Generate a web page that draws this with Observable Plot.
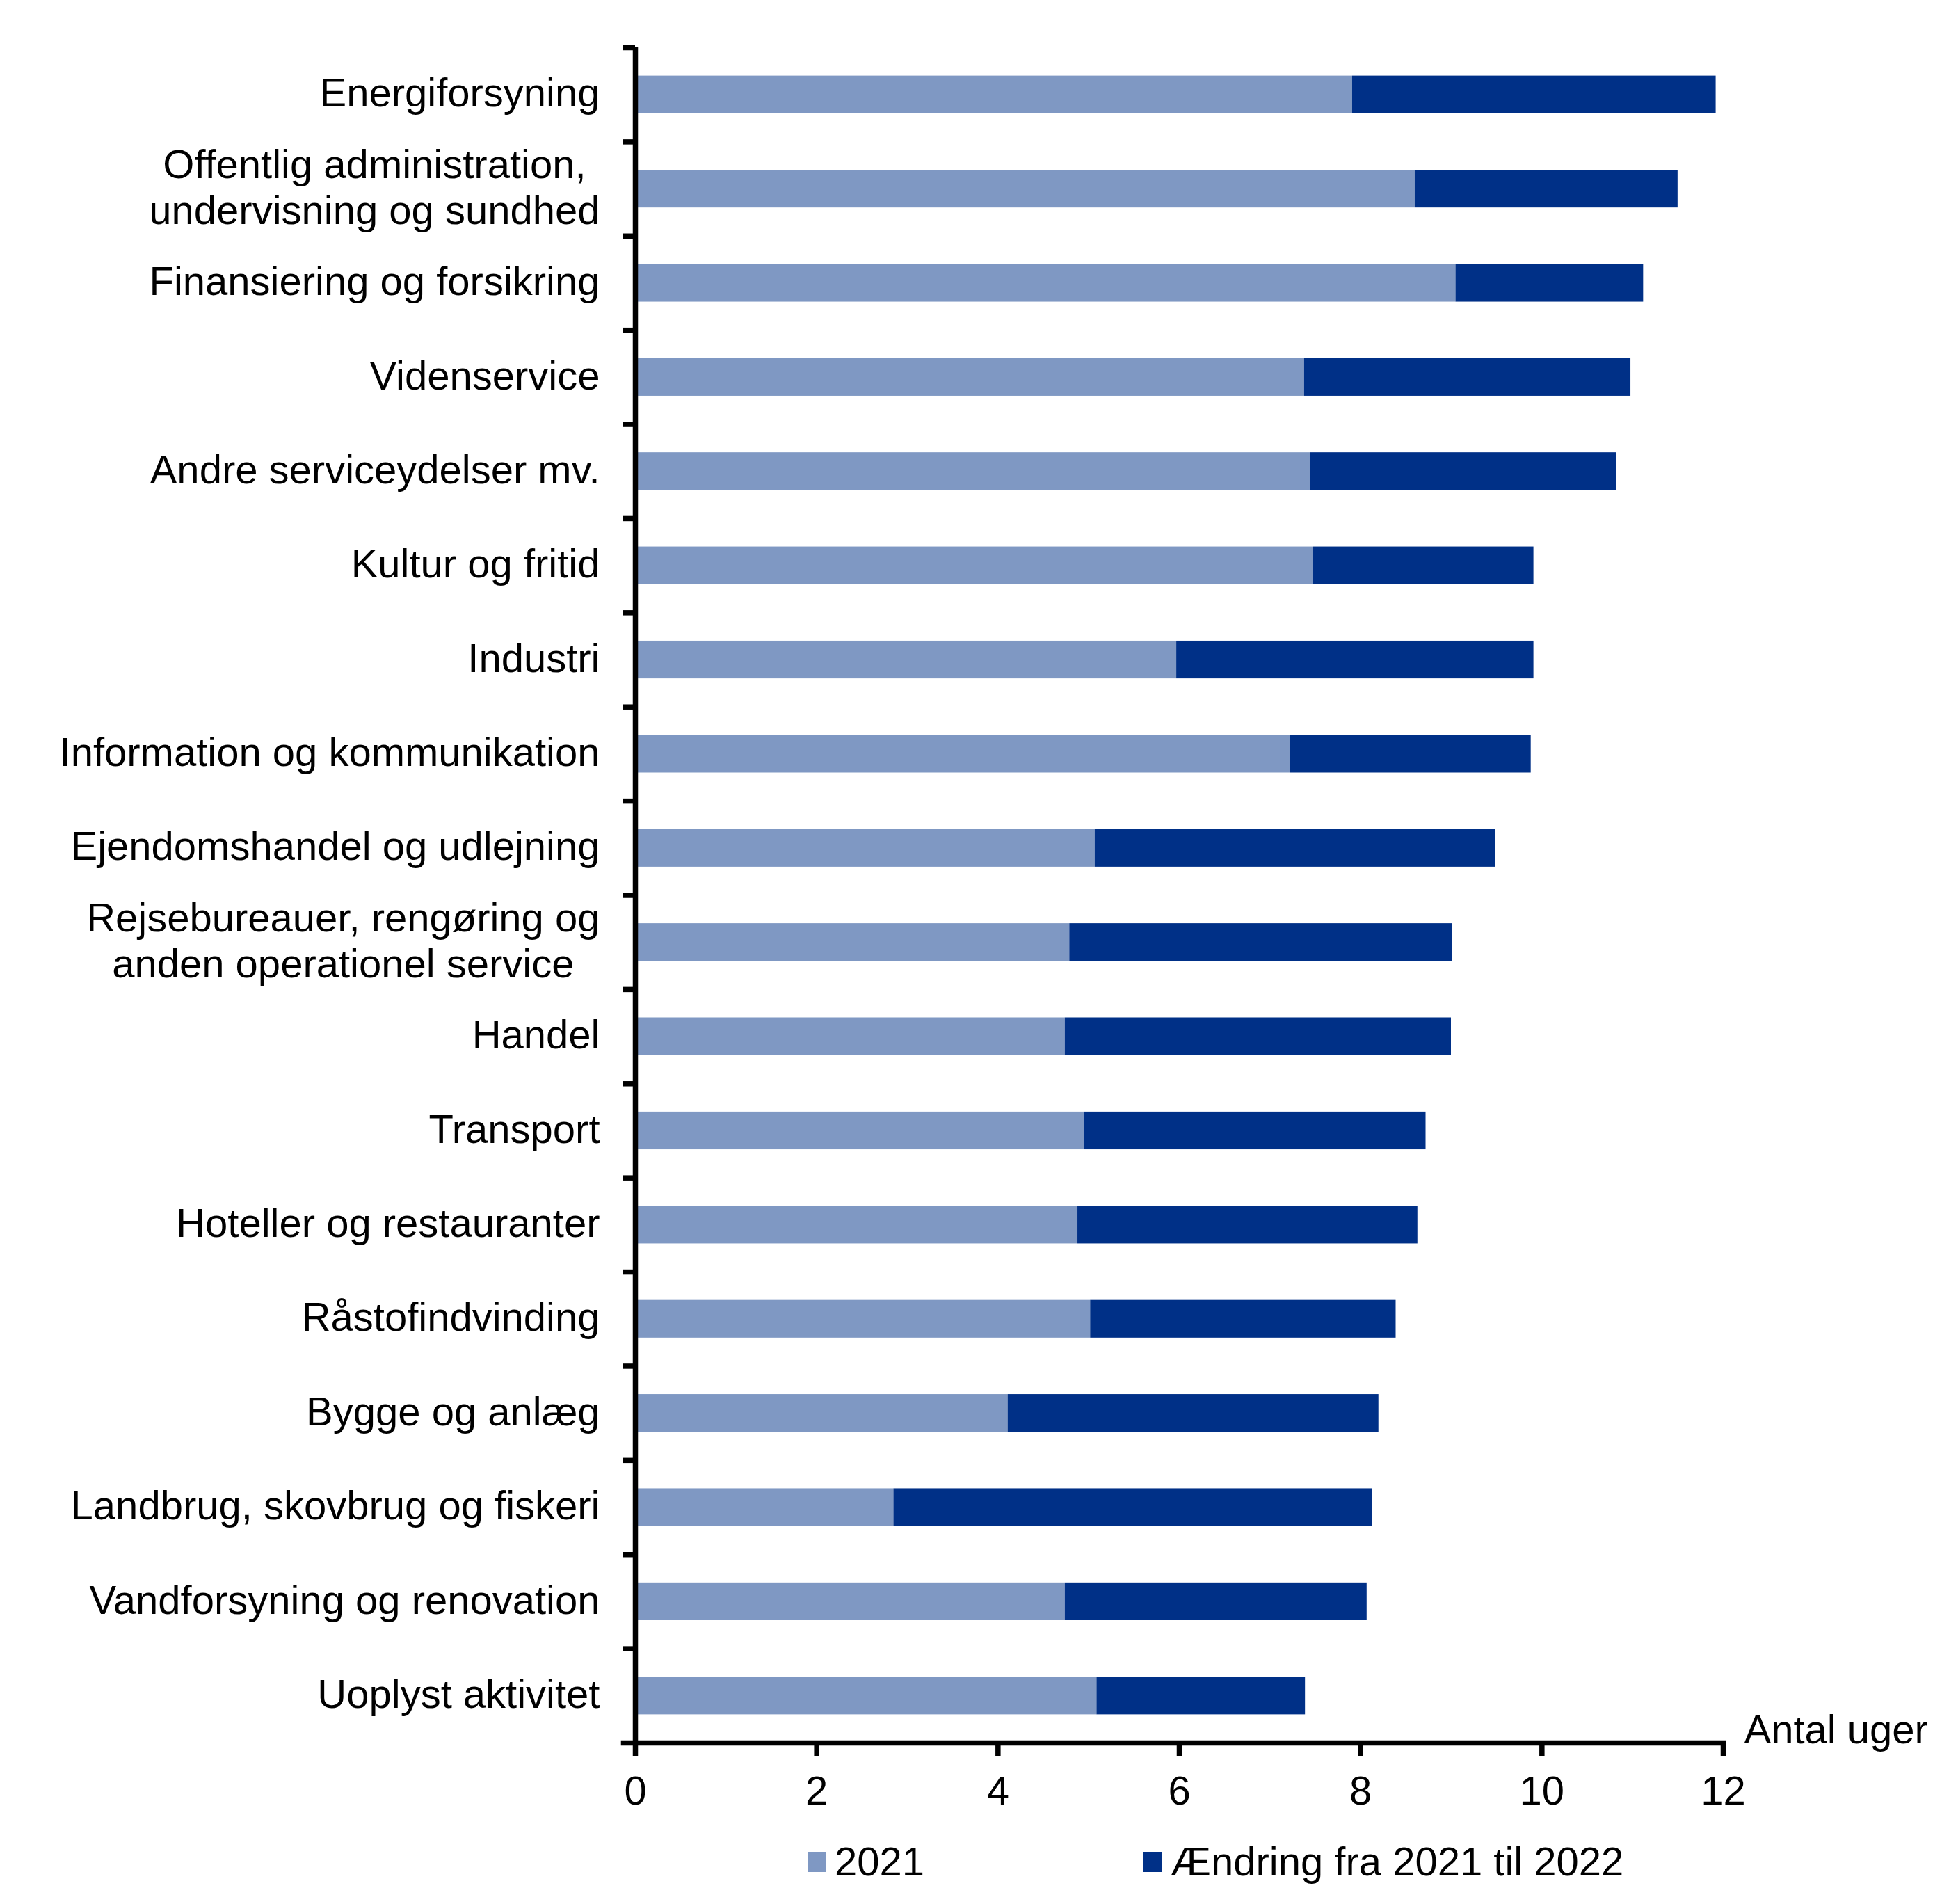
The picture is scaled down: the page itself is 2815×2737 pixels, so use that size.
<!DOCTYPE html>
<html>
<head>
<meta charset="utf-8">
<script src="https://cdn.jsdelivr.net/npm/d3@7"></script>
<script src="https://cdn.jsdelivr.net/npm/@observablehq/plot@0.6"></script>
<style>
  html, body { margin: 0; padding: 0; background: #fff; }
  body { width: 2815px; font-family: "Liberation Sans", Arial, sans-serif; color: #000; }
  #chart svg { display: block; }
  #legend { position: relative; height: 100px; margin-top: -4px; display: flex; padding-left: 1161px; font-size: 58px; line-height: 58px; }
  #legend .item { display: flex; align-items: center; }
  #legend .item:first-child { width: 483px; }
  #legend .sw { width: 27px; height: 29px; margin-right: 12px; }
</style>
</head>
<body>
<div id="chart"></div>
<div id="legend"></div>
<script>
const categories = [
  "Energiforsyning",
  "Offentlig administration,\nundervisning og sundhed",
  "Finansiering og forsikring",
  "Videnservice",
  "Andre serviceydelser mv.",
  "Kultur og fritid",
  "Industri",
  "Information og kommunikation",
  "Ejendomshandel og udlejning",
  "Rejsebureauer, rengøring og\nanden operationel service",
  "Handel",
  "Transport",
  "Hoteller og restauranter",
  "Råstofindvinding",
  "Bygge og anlæg",
  "Landbrug, skovbrug og fiskeri",
  "Vandforsyning og renovation",
  "Uoplyst aktivitet"
];
const seriesNames = ["2021", "Ændring fra 2021 til 2022"];
const values2021 = [7.91, 8.60, 9.05, 7.38, 7.45, 7.48, 5.97, 7.22, 5.07, 4.79, 4.74, 4.95, 4.88, 5.02, 4.11, 2.85, 4.74, 5.09];
const valuesChange = [4.01, 2.90, 2.07, 3.60, 3.37, 2.43, 3.94, 2.66, 4.42, 4.22, 4.26, 3.77, 3.75, 3.37, 4.09, 5.28, 3.33, 2.30];
const xTicks = [0, 2, 4, 6, 8, 10, 12];
const xLabel = "Antal uger";
const colors = ["#7F98C3", "#003087"];

const FONT = '"Liberation Sans", Arial, sans-serif';
const FS = 58;
const W = 2815, H = 2630, MT = 68, MB = H - 2505, ML = 913, MR = 2815 - 2477;
const step = (H - MT - MB) / categories.length;

const rows = [];
categories.forEach((c, i) => {
  rows.push({category: c, series: seriesNames[0], value: values2021[i]});
  rows.push({category: c, series: seriesNames[1], value: valuesChange[i]});
});

const chart = Plot.plot({
  width: W, height: H,
  marginTop: MT, marginBottom: MB, marginLeft: ML, marginRight: MR,
  style: {fontFamily: FONT, fontSize: FS + "px", color: "#000", background: "#fff", overflow: "visible"},
  x: {domain: [0, 12], label: null},
  y: {domain: categories, paddingInner: 0.6, paddingOuter: 0.3, round: false, label: null},
  color: {domain: seriesNames, range: colors},
  marks: [
    Plot.barX(rows, {y: "category", x: "value", fill: "series"}),
    Plot.axisY({tickSize: 0, tickPadding: 51, fontSize: FS, lineHeight: 1.14, label: null, dy: -4}),
    Plot.axisY({tickSize: 17, strokeWidth: 7.5, tickFormat: () => "", label: null, dy: -step / 2}),
    Plot.axisX({ticks: xTicks, tickSize: 19, strokeWidth: 7.5, tickPadding: 28, fontSize: FS, label: null}),
    Plot.ruleX([0], {strokeWidth: 7.5}),
    Plot.frame({anchor: "bottom", strokeWidth: 7.5, insetLeft: -17}),
    Plot.text([xLabel], {frameAnchor: "bottom-right", textAnchor: "start", lineAnchor: "bottom", dx: 30, fontSize: FS})
  ]
});
document.getElementById("chart").appendChild(chart);

// center the lines of multi-line category labels within a right-aligned block
chart.querySelectorAll('g[aria-label="y-axis tick label"] text').forEach(t => {
  const spans = t.querySelectorAll("tspan");
  if (spans.length > 1) {
    let maxW = 0;
    spans.forEach(s => { maxW = Math.max(maxW, s.getComputedTextLength()); });
    t.setAttribute("text-anchor", "middle");
    spans.forEach(s => s.setAttribute("x", -maxW / 2));
  }
});

const legend = d3.select("#legend");
seriesNames.forEach((name, i) => {
  const item = legend.append("div").attr("class", "item");
  item.append("div").attr("class", "sw").style("background", colors[i]);
  item.append("span").text(name);
});
</script>
</body>
</html>
